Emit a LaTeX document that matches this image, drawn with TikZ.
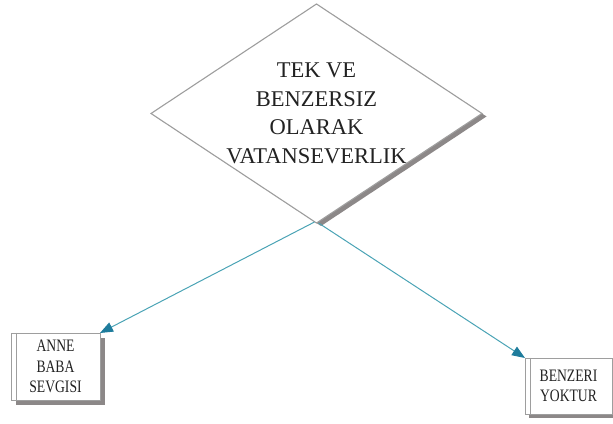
\documentclass[tikz,border=0pt]{standalone}
\usepackage{fontspec}
\setmainfont{Liberation Serif}
\newfontfamily\narrowserif[FakeStretch=0.78]{Liberation Serif}
\usetikzlibrary{shapes.geometric,shadows,arrows.meta}
\definecolor{edgegray}{HTML}{9E9E9E}
\definecolor{shadowgray}{HTML}{8C8888}
\definecolor{arrowline}{HTML}{4AA3B5}
\definecolor{arrowhead}{HTML}{1E7C9C}
\definecolor{txt}{HTML}{222222}
\tikzset{
  bigdiamond/.style={diamond, aspect=1.5, draw=edgegray, line width=1.1pt, fill=white,
    minimum width=331pt, minimum height=219pt, inner sep=-25pt, outer sep=0pt,
    align=center, text=txt,
    font=\fontsize{22.5}{28.5}\selectfont,
    drop shadow={shadow xshift=4.5pt, shadow yshift=-3pt, fill=shadowgray, opacity=1}},
  leafbox/.style={rectangle, draw=edgegray, line width=0.9pt, fill=white,
    inner sep=0pt, outer sep=0pt, align=center, text=txt,
    font=\narrowserif\fontsize{17.5}{20.5}\selectfont},
  conn/.style={draw=arrowline, line width=1pt,
    -{Triangle[length=13pt,width=10pt,color=arrowhead,fill=arrowhead]}},
  inner/.style={draw=edgegray, line width=0.8pt}
}
\begin{document}
\begin{tikzpicture}[x=1pt,y=1pt]
\useasboundingbox (0,0) rectangle (613,423);
\node[bigdiamond] (d) at (316.5,309.5) {TEK VE\\BENZERSIZ\\OLARAK\\VATANSEVERLIK};
\node[leafbox, minimum width=89pt, minimum height=67pt,
  drop shadow={shadow xshift=5pt, shadow yshift=-5pt, fill=shadowgray, opacity=1}]
  (a) at (55.5,56.5) {ANNE\\BABA\\SEVGISI};
\node[leafbox, minimum width=87pt, minimum height=56pt,
  drop shadow={shadow xshift=4pt, shadow yshift=-4pt, fill=shadowgray, opacity=1}]
  (b) at (568.5,37) {BENZERI\\YOKTUR};
\draw[inner] ([xshift=5pt]a.north west) -- ([xshift=5pt]a.south west);
\draw[inner] ([xshift=5pt]b.north west) -- ([xshift=5pt]b.south west);
\draw[conn] ([xshift=-2pt,yshift=1pt]d.south) -- (a.north east);
\draw[conn] ([xshift=2pt]d.south) -- (b.north west);
\end{tikzpicture}
\end{document}
